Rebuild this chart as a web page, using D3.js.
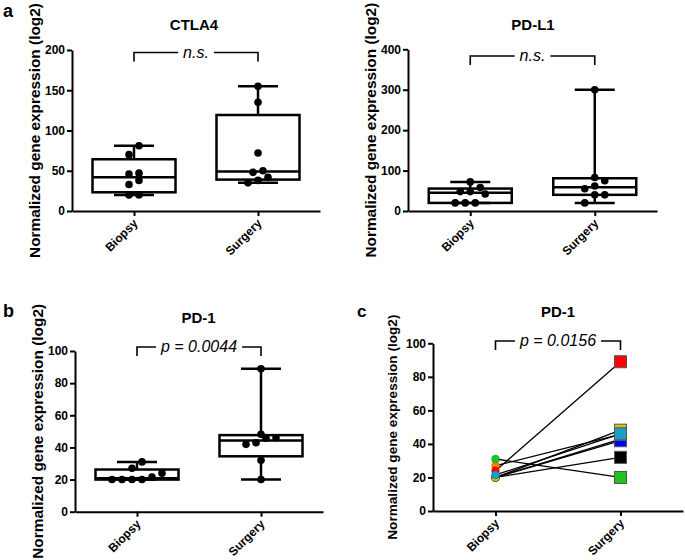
<!DOCTYPE html>
<html><head><meta charset="utf-8">
<script src="https://cdn.jsdelivr.net/npm/d3@7"></script>
<style>
body{margin:0;background:#fff;}
svg text{font-family:"Liberation Sans",Arial,sans-serif;fill:#000;}
</style></head><body>
<svg id="chart" width="685" height="560"></svg>
<script>
// ---------------- data ----------------
const categories = ["Biopsy", "Surgery"];
const ctla4Biopsy = [81, 70, 47, 46, 38, 33, 20, 20];
const ctla4Surgery = [155, 135, 72, 50, 48, 42, 38, 35];
const pdl1Biopsy = [72, 58, 48, 48, 42, 20, 20, 20];
const pdl1Surgery = [300, 83, 75, 62, 55, 40, 40, 20];
const pd1Biopsy = [31, 27, 24, 21.5, 20, 20, 20, 20];
const pd1Surgery = [89, 48.2, 46, 45.7, 42.9, 41.9, 32, 20];
const ctla4Ticks = [0, 50, 100, 150, 200];
const pdl1Ticks = [0, 100, 200, 300, 400];
const pd1Ticks = [0, 20, 40, 60, 80, 100];
const statLabels = ["n.s.", "n.s.", "p = 0.0044", "p = 0.0156"];
const titles = ["CTLA4", "PD-L1", "PD-1", "PD-1"];
const yTitle = "Normalized gene expression (log2)";
// paired samples (panel c), in drawing order
const pairedBiopsy  = [20, 20, 20, 20, 27, 24, 31, 21.5];
const pairedSurgery = [42.9, 41.9, 32, 48.2, 45.7, 89, 20, 46];
const pairColors = ["#8a2be2", "#0000ff", "#000000", "#cfc40c", "#ff8000", "#ff0000", "#1fc41f", "#1a9fc4"];

// ---------------- helpers ----------------
const svg = d3.select("#chart");

function q6(sorted, p) { // GraphPad-style quantile
  const n = sorted.length, pos = (n + 1) * p;
  if (pos <= 1) return sorted[0];
  if (pos >= n) return sorted[n - 1];
  const lo = Math.floor(pos), f = pos - lo;
  return sorted[lo - 1] + f * (sorted[lo] - sorted[lo - 1]);
}

function drawAxes(g, x, y, ticks) {
  const ya = g.append("g").attr("transform", `translate(${x.range()[0]},0)`)
    .call(d3.axisLeft(y).tickValues(ticks).tickSize(5).tickSizeOuter(0).tickPadding(2));
  const xa = g.append("g").attr("transform", `translate(0,${y.range()[0]})`)
    .call(d3.axisBottom(x).tickSize(5).tickSizeOuter(0));
  [ya, xa].forEach(a => {
    a.select(".domain").attr("stroke", "#000").attr("stroke-width", 2);
    a.selectAll(".tick line").attr("stroke", "#000").attr("stroke-width", 2);
    a.selectAll("text").attr("font-size", 12).attr("font-weight", "bold")
      .attr("font-family", "'Liberation Sans',Arial,sans-serif").attr("fill", "#000");
  });
  xa.selectAll(".tick text").attr("x", 0).attr("y", 0).attr("dy", 0)
    .attr("text-anchor", "end").attr("transform", "translate(4,13) rotate(-45)");
}

function drawTexts(g, cfg, x, y) {
  g.append("text").attr("x", cfg.titleX).attr("y", cfg.titleY)
    .attr("text-anchor", "middle").attr("font-size", 15).attr("font-weight", "bold").text(cfg.title);
  const cy = (y.range()[0] + y.range()[1]) / 2;
  g.append("text").attr("transform", `translate(${cfg.ylabX},${cy}) rotate(-90)`)
    .attr("text-anchor", "middle").attr("font-size", cfg.ylabSize).attr("font-weight", "bold").text(yTitle);
  // bracket
  const x1 = x(categories[0]), x2 = x(categories[1]), mid = (x1 + x2) / 2;
  const t = g.append("text").attr("x", mid).attr("y", cfg.brY + 5)
    .attr("text-anchor", "middle").attr("font-size", 16).attr("font-style", "italic").text(cfg.stat);
  const w = t.node().getComputedTextLength() / 2 + 5;
  g.append("path").attr("fill", "none").attr("stroke", "#000").attr("stroke-width", 1.6)
    .attr("d", `M${x1},${cfg.brY + 9}V${cfg.brY}H${mid - w}M${mid + w},${cfg.brY}H${x2}V${cfg.brY + 9}`);
  g.append("text").attr("x", cfg.letterX).attr("y", cfg.letterY)
    .attr("font-size", cfg.letterSize).attr("font-weight", "bold").text(cfg.letter);
}

function swarm(values, y, cx, d) {
  const pts = values.map(v => ({v, py: y(v)})).sort((a, b) => a.v - b.v);
  const rows = [];
  pts.forEach(p => {
    const r = rows[rows.length - 1];
    if (r && Math.abs(r[0].py - p.py) < d * 0.9) r.push(p); else rows.push([p]);
  });
  rows.forEach(r => r.forEach((p, i) => { p.px = cx + (i - (r.length - 1) / 2) * d; }));
  return pts;
}

function boxPanel(cfg) {
  const g = svg.append("g");
  const x = d3.scalePoint().domain(categories).range([cfg.x0, cfg.x1]).padding(0.5);
  const y = d3.scaleLinear().domain([cfg.ticks[0], cfg.ticks[cfg.ticks.length - 1]]).range([cfg.yBot, cfg.yTop]);
  drawAxes(g, x, y, cfg.ticks);
  [cfg.b, cfg.s].forEach((vals, k) => {
    const cx = x(categories[k]);
    const s = vals.slice().sort(d3.ascending);
    const q1 = q6(s, 0.25), med = q6(s, 0.5), q3 = q6(s, 0.75), mn = s[0], mx = s[s.length - 1];
    const hw = 41.5, cw = 20;
    const bg = g.append("g").attr("stroke", "#000").attr("stroke-width", 2.5).attr("fill", "none");
    bg.append("line").attr("x1", cx).attr("x2", cx).attr("y1", y(mx)).attr("y2", y(q3));
    bg.append("line").attr("x1", cx).attr("x2", cx).attr("y1", y(q1)).attr("y2", y(mn));
    bg.append("line").attr("x1", cx - cw).attr("x2", cx + cw).attr("y1", y(mx)).attr("y2", y(mx));
    bg.append("line").attr("x1", cx - cw).attr("x2", cx + cw).attr("y1", y(mn)).attr("y2", y(mn));
    bg.append("rect").attr("x", cx - hw).attr("width", hw * 2).attr("y", y(q3)).attr("height", y(q1) - y(q3));
    bg.append("line").attr("x1", cx - hw).attr("x2", cx + hw).attr("y1", y(med)).attr("y2", y(med));
    g.selectAll(null).data(swarm(vals, y, cx, 10)).join("circle")
      .attr("cx", p => p.px).attr("cy", p => p.py).attr("r", 3.8).attr("fill", "#000");
  });
  drawTexts(g, cfg, x, y);
}

boxPanel({x0: 72, x1: 320, yTop: 50, yBot: 211, ticks: ctla4Ticks, b: ctla4Biopsy, s: ctla4Surgery,
  title: titles[0], titleX: 194, titleY: 30, stat: statLabels[0], brY: 52.5, ylabX: 40, ylabSize: 15.4,
  letter: "a", letterX: 3, letterY: 17, letterSize: 18});
boxPanel({x0: 408, x1: 657, yTop: 49.3, yBot: 211, ticks: pdl1Ticks, b: pdl1Biopsy, s: pdl1Surgery,
  title: titles[1], titleX: 533, titleY: 30, stat: statLabels[1], brY: 56, ylabX: 376, ylabSize: 15.4,
  letter: "", letterX: 0, letterY: 0, letterSize: 18});
boxPanel({x0: 75, x1: 323, yTop: 351, yBot: 511.7, ticks: pd1Ticks, b: pd1Biopsy, s: pd1Surgery,
  title: titles[2], titleX: 198.5, titleY: 323, stat: statLabels[2], brY: 347, ylabX: 43, ylabSize: 15.4,
  letter: "b", letterX: 3, letterY: 317, letterSize: 18});

// ---------------- panel c (paired) ----------------
(function () {
  const cfg = {x0: 433, x1: 683, yTop: 343.3, yBot: 511, title: titles[3], titleX: 558, titleY: 317,
    stat: statLabels[3], brY: 341, ylabX: 397, ylabSize: 13.6, letter: "c", letterX: 357, letterY: 317, letterSize: 17};
  const g = svg.append("g");
  const x = d3.scalePoint().domain(categories).range([cfg.x0, cfg.x1]).padding(0.5);
  const y = d3.scaleLinear().domain([0, 100]).range([cfg.yBot, cfg.yTop]);
  drawAxes(g, x, y, pd1Ticks);
  const idx = d3.range(pairedBiopsy.length);
  g.selectAll(null).data(idx).join("line")
    .attr("x1", x(categories[0])).attr("x2", x(categories[1]))
    .attr("y1", i => y(pairedBiopsy[i])).attr("y2", i => y(pairedSurgery[i]))
    .attr("stroke", "#000").attr("stroke-width", 1.3);
  g.selectAll(null).data(idx).join("circle")
    .attr("cx", x(categories[0])).attr("cy", i => y(pairedBiopsy[i])).attr("r", 4)
    .attr("fill", i => pairColors[i]).attr("stroke", "rgba(0,0,0,0.25)").attr("stroke-width", 0.6);
  const sq = 12;
  g.selectAll(null).data(idx).join("rect")
    .attr("x", x(categories[1]) - sq / 2).attr("y", i => y(pairedSurgery[i]) - sq / 2)
    .attr("width", sq).attr("height", sq)
    .attr("fill", i => pairColors[i]).attr("stroke", "#555").attr("stroke-width", 1);
  drawTexts(g, cfg, x, y);
})();
</script></body></html>
